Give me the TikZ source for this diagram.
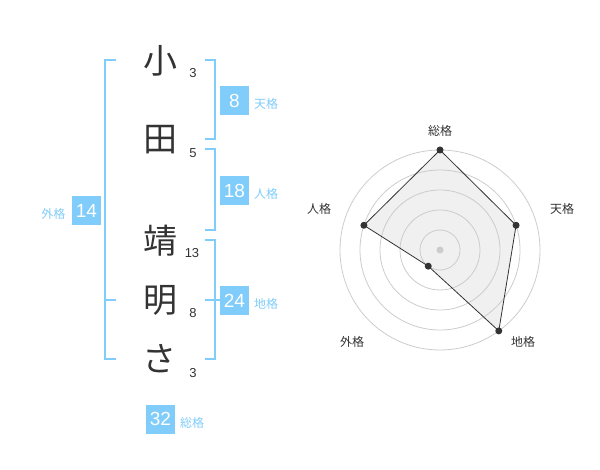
\documentclass[tikz,border=0pt]{standalone}
\usepackage{fontspec}
\setmainfont{Liberation Sans}
\newfontfamily\jp{Noto Sans CJK JP}
\definecolor{kblue}{RGB}{128,204,250}
\definecolor{ktext}{RGB}{51,51,51}
\definecolor{kgrid}{RGB}{204,204,204}
\definecolor{kfill}{RGB}{240,240,240}
\tikzset{
  kanji/.style={font=\jp\fontsize{34}{34}\selectfont, text=ktext, inner sep=0pt},
  strokes/.style={font=\fontsize{13}{13}\selectfont, text=ktext, inner sep=0pt},
  br/.style={draw=kblue, line width=2pt},
  kbox/.style={fill=kblue, text=white, minimum width=29pt, minimum height=29pt, inner sep=0pt, font=\fontsize{19}{19}\selectfont},
  klab/.style={font=\jp\fontsize{12}{12}\selectfont, text=kblue, inner sep=0pt},
  rlab/.style={font=\jp\fontsize{12}{12}\selectfont, text=ktext, inner sep=0pt},
  rdot/.style={circle, fill=ktext, inner sep=0pt, minimum size=7pt},
  grid/.style={draw=kgrid, line width=0.8pt},
}
\begin{document}
\begin{tikzpicture}[x=1pt,y=-1pt]
\useasboundingbox (0,0) rectangle (600,470);
% characters
\node[kanji] (c1) at (160,61) {小};
\node[kanji] (c2) at (160,140) {田};
\node[kanji] (c3) at (160,241) {靖};
\node[kanji] (c4) at (160,300) {明};
\node[kanji] (c5) at (159,359) {さ};
% stroke counts
\node[strokes] (n1) at (193,73) {3};
\node[strokes] (n2) at (193,153) {5};
\node[strokes] (n3) at (192,253) {13};
\node[strokes] (n4) at (193,313) {8};
\node[strokes] (n5) at (193,373) {3};
% brackets
\draw[br] (205,60) -- (214.5,60) -- (214.5,139.5) -- (205,139.5);
\draw[br] (205,149.5) -- (214.5,149.5) -- (214.5,230) -- (205,230);
\draw[br] (205,240) -- (214.5,240) -- (214.5,359.5) -- (205,359.5);
\draw[br] (205,300) -- (220,300);
\draw[br] (116,60) -- (104.5,60) -- (104.5,359.5) -- (116,359.5);
\draw[br] (104.5,300) -- (116,300);
% boxes
\node[kbox] (ten) at (234.5,100.5) {8};
\node[klab, anchor=west] (tenl) at (254,104) {天格};
\node[kbox] (jin) at (234.5,190.5) {18};
\node[klab, anchor=west] (jinl) at (254,194) {人格};
\node[kbox] (chi) at (234.5,300.5) {24};
\node[klab, anchor=west] (chil) at (254,304) {地格};
\node[kbox] (gai) at (86.5,210.5) {14};
\node[klab, anchor=east] (gail) at (65.5,214) {外格};
\node[kbox] (sou) at (160.5,419) {32};
\node[klab, anchor=west] (soul) at (180,423) {総格};
% radar
\coordinate (o) at (440,250);
\path (o) ++(-90:100) coordinate (ps);
\path (o) ++(-18:80) coordinate (pt);
\path (o) ++(54:100) coordinate (pc);
\path (o) ++(126:20) coordinate (pg);
\path (o) ++(-162:80) coordinate (pj);
\fill[kfill] (ps) -- (pt) -- (pc) -- (pg) -- (pj) -- cycle;
\foreach \r in {20,40,60,80,100} \draw[grid] (o) circle[radius=\r];
\draw[ktext, line width=0.8pt] (ps) -- (pt) -- (pc) -- (pg) -- (pj) -- cycle;
\fill[kgrid] (o) circle[radius=3.5];
\node[rdot] (ds) at (ps) {};
\node[rdot] (dt) at (pt) {};
\node[rdot] (dc) at (pc) {};
\node[rdot] (dg) at (pg) {};
\node[rdot] (dj) at (pj) {};
\node[rlab] (ls) at (440,131) {総格};
\node[rlab] (lt) at (562,209) {天格};
\node[rlab] (lc) at (523,342) {地格};
\node[rlab] (lg) at (352,342) {外格};
\node[rlab] (lj) at (319,209) {人格};
\end{tikzpicture}
\end{document}
